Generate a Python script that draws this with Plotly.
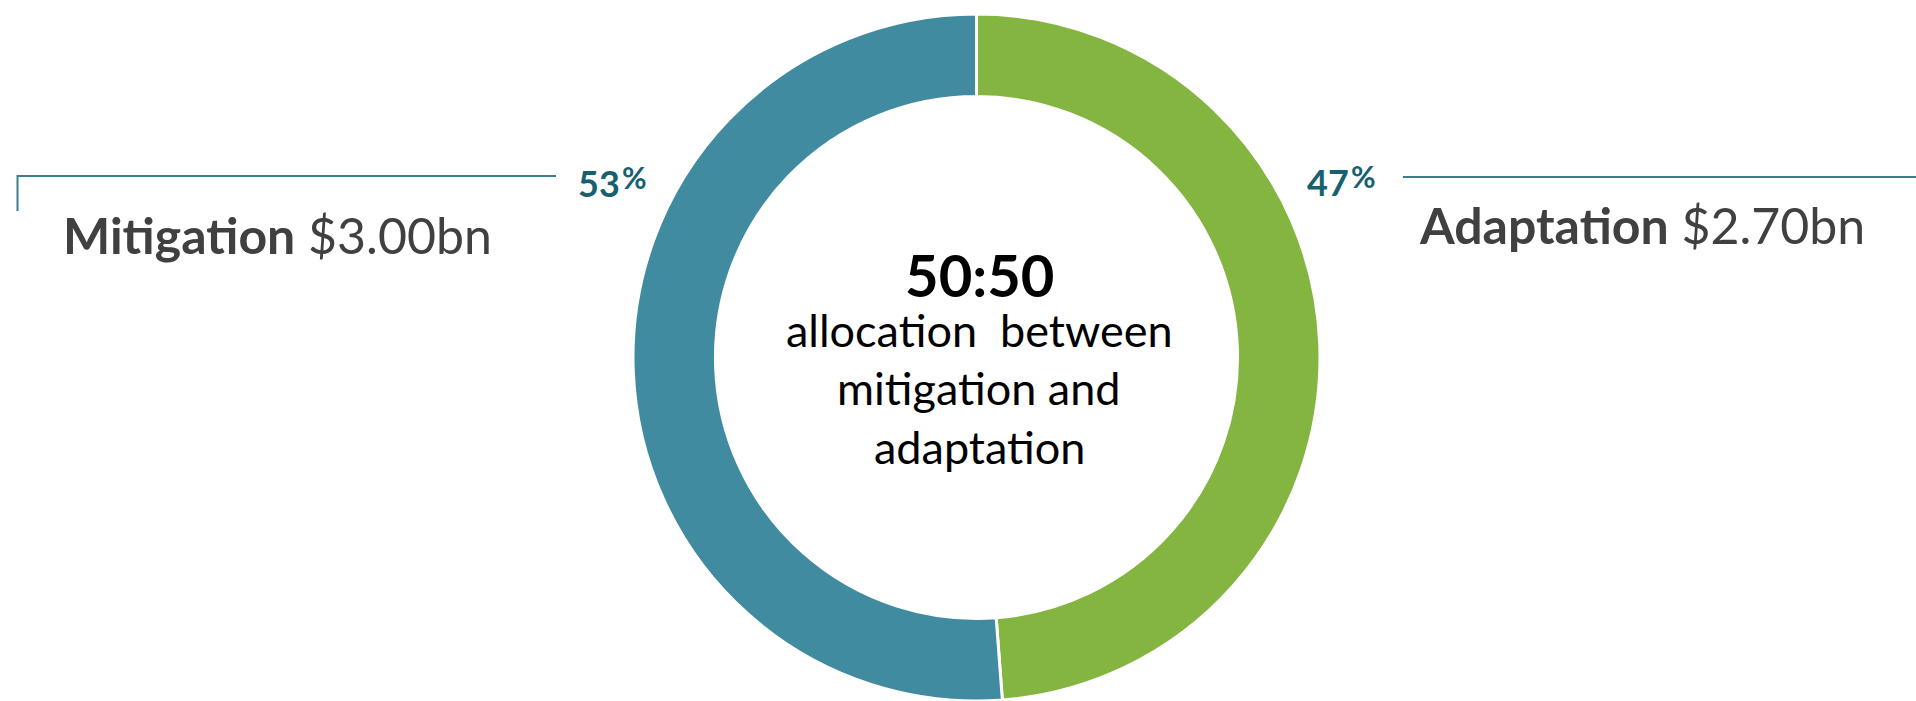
import plotly.graph_objects as go

W, H = 1916, 701

# ---- data ----
categories = ["Adaptation", "Mitigation"]
amount_labels = ["$2.70bn", "$3.00bn"]
pct_labels = ["47", "53"]
slice_share = [48.8, 51.2]          # shares as drawn in the ring
slice_colors = ["#84B541", "#418BA1"]
center_title = "50:50"
center_lines = ["allocation \u00a0between", "mitigation and", "adaptation"]

FONT = "Lato"
DARK = "#404040"
TEAL_TXT = "#17606F"
TEAL_LINE = "#3B7F8E"


def px(x):
    return x / W


def py(y):
    return 1 - y / H


fig = go.Figure()
fig.add_trace(go.Pie(
    labels=categories,
    values=slice_share,
    hole=0.76,
    sort=False,
    direction="clockwise",
    rotation=0,
    marker=dict(colors=slice_colors, line=dict(color="white", width=3)),
    textinfo="none",
    hoverinfo="label+percent",
    showlegend=False,
    domain=dict(x=[px(633), px(1320)], y=[0, py(14)]),
))

ann = []
# center text
ann.append(dict(x=px(980), y=py(274), text=f"<b>{center_title}</b>", showarrow=False,
                xanchor="center", yanchor="middle",
                font=dict(family=FONT, size=58, color="#000000")))
for t, yc in zip(center_lines, [330, 388, 447]):
    ann.append(dict(x=px(979), y=py(yc), text=t, showarrow=False,
                    xanchor="center", yanchor="middle",
                    font=dict(family=FONT, size=45, color="#000000")))

# category labels
ann.append(dict(x=px(61), y=py(235), text=f"<b>{categories[1]}</b> {amount_labels[1]}",
                showarrow=False, xanchor="left", yanchor="middle",
                font=dict(family=FONT, size=50, color=DARK)))
ann.append(dict(x=px(1417), y=py(225), text=f"<b>{categories[0]}</b> {amount_labels[0]}",
                showarrow=False, xanchor="left", yanchor="middle",
                font=dict(family=FONT, size=50, color=DARK)))

# percentages
for num, xl, xp, yc in [(pct_labels[1], 576, 620, 183), (pct_labels[0], 1305, 1349, 182)]:
    ann.append(dict(x=px(xl), y=py(yc), text=f"<b>{num}</b>", showarrow=False,
                    xanchor="left", yanchor="middle",
                    font=dict(family=FONT, size=36, color=TEAL_TXT)))
    ann.append(dict(x=px(xp), y=py(yc - 6), text="<b>%</b>", showarrow=False,
                    xanchor="left", yanchor="middle",
                    font=dict(family=FONT, size=30, color=TEAL_TXT)))

shapes = [
    dict(type="path", xref="paper", yref="paper",
         path=f"M {px(17.5)} {py(211)} L {px(17.5)} {py(176)} L {px(556)} {py(176)}",
         line=dict(color=TEAL_LINE, width=2)),
    dict(type="line", xref="paper", yref="paper",
         x0=px(1403), y0=py(177), x1=1, y1=py(177),
         line=dict(color=TEAL_LINE, width=2)),
]

fig.update_layout(
    width=W, height=H,
    margin=dict(l=0, r=0, t=0, b=0),
    paper_bgcolor="white", plot_bgcolor="white",
    annotations=ann, shapes=shapes,
)

fig.write_html("out.html")
